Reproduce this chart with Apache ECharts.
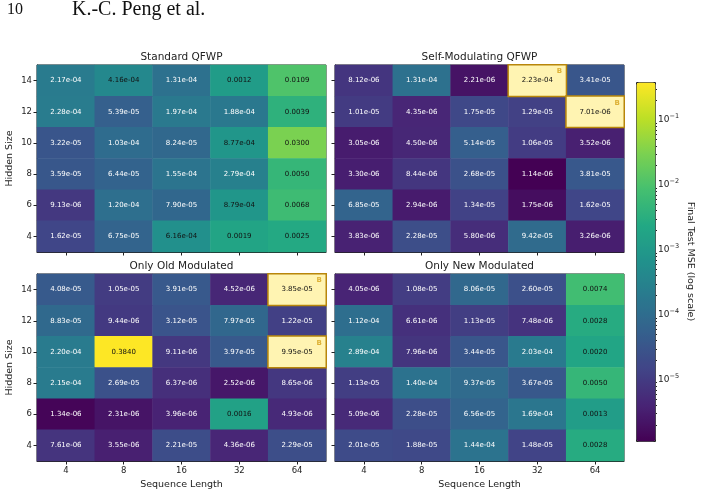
<!DOCTYPE html>
<html>
<head>
<meta charset="utf-8">
<style>
  html, body { margin: 0; padding: 0; background: #fff; }
  #chart { width: 702px; height: 495px; }
</style>
<script src="https://cdn.jsdelivr.net/npm/echarts@6.0.0/dist/echarts.min.js"></script>
</head>
<body>
<div id="chart"></div>
<script>
// categories
const seqLengths = ['4', '8', '16', '32', '64'];
const hiddenSizes = ['4', '6', '8', '10', '12', '14'];
const panelTitles = ['Standard QFWP', 'Self-Modulating QFWP', 'Only Old Modulated', 'Only New Modulated'];

// final test MSE, rows from hidden size 14 (top) down to 4, columns seq 4..64
const standardQFWP = [
  [2.17e-4, 4.16e-4, 1.31e-4, 0.0012, 0.0109],
  [2.28e-4, 5.39e-5, 1.97e-4, 1.88e-4, 0.0039],
  [3.22e-5, 1.03e-4, 8.24e-5, 8.77e-4, 0.0300],
  [3.59e-5, 6.44e-5, 1.55e-4, 2.79e-4, 0.0050],
  [9.13e-6, 1.20e-4, 7.90e-5, 8.79e-4, 0.0068],
  [1.62e-5, 6.75e-5, 6.16e-4, 0.0019, 0.0025]
];
const selfModQFWP = [
  [8.12e-6, 1.31e-4, 2.21e-6, 2.23e-4, 3.41e-5],
  [1.01e-5, 4.35e-6, 1.75e-5, 1.29e-5, 7.01e-6],
  [3.05e-6, 4.50e-6, 5.14e-5, 1.06e-5, 3.52e-6],
  [3.30e-6, 8.44e-6, 2.68e-5, 1.14e-6, 3.81e-5],
  [6.85e-5, 2.94e-6, 1.34e-5, 1.75e-6, 1.62e-5],
  [3.83e-6, 2.28e-5, 5.80e-6, 9.42e-5, 3.26e-6]
];
const oldModulated = [
  [4.08e-5, 1.05e-5, 3.91e-5, 4.52e-6, 3.85e-5],
  [8.83e-5, 9.44e-6, 3.12e-5, 7.97e-5, 1.22e-5],
  [2.20e-4, 0.3840, 9.11e-6, 3.97e-5, 9.95e-5],
  [2.15e-4, 2.69e-5, 6.37e-6, 2.52e-6, 8.65e-6],
  [1.34e-6, 2.31e-6, 3.96e-6, 0.0016, 4.93e-6],
  [7.61e-6, 3.55e-6, 2.21e-5, 4.36e-6, 2.29e-5]
];
const newModulated = [
  [4.05e-6, 1.08e-5, 8.06e-5, 2.60e-5, 0.0074],
  [1.12e-4, 6.61e-6, 1.13e-5, 7.48e-6, 0.0028],
  [2.89e-4, 7.96e-6, 3.44e-5, 2.03e-4, 0.0020],
  [1.13e-5, 1.40e-4, 9.37e-5, 3.67e-5, 0.0050],
  [5.09e-6, 2.28e-5, 6.56e-5, 1.69e-4, 0.0013],
  [2.01e-5, 1.88e-5, 1.44e-4, 1.48e-5, 0.0028]
];
// highlighted "B" cells: [seq length, hidden size]
const bestCells = [
  [],
  [['32', '14'], ['64', '12']],
  [['64', '14'], ['64', '10']],
  []
];
const cbTicks = [-5, -4, -3, -2, -1];

const panels = [standardQFWP, selfModQFWP, oldModulated, newModulated];
const allVals = panels.flat(2);
const LOG_MIN = Math.log10(Math.min(...allVals));
const LOG_MAX = Math.log10(Math.max(...allVals));

const viridis = ['#440154', '#482475', '#414487', '#355f8d', '#2a788e', '#21918c',
  '#22a884', '#44bf70', '#7ad151', '#bddf26', '#fde725'];

const fmt = v => {
  if (v >= 1e-3) return v.toFixed(4);
  const [m, e] = v.toExponential(2).split('e');
  const n = Math.abs(+e);
  return m + 'e' + (+e < 0 ? '-' : '+') + (n < 10 ? '0' + n : n);
};

const FONT = 'DejaVu Sans';
const gridPos = [
  { left: 37, top: 65 }, { left: 335, top: 65 },
  { left: 37, top: 274 }, { left: 335, top: 274 }
];
const W = 289, H = 187;

const grids = [], xAxes = [], yAxes = [], series = [], graphics = [];
const mainIdx = [];

panels.forEach((mat, p) => {
  const isBottom = p >= 2, isLeft = p % 2 === 0;
  grids.push({ left: gridPos[p].left, top: gridPos[p].top, width: W, height: H,
    show: true, borderColor: '#222', borderWidth: 1, backgroundColor: 'transparent' });
  xAxes.push({
    type: 'category', data: seqLengths, gridIndex: p,
    axisLine: { show: true, lineStyle: { color: '#222' } },
    axisTick: { show: true, alignWithLabel: true, length: 3.5, lineStyle: { color: '#222' } },
    axisLabel: { show: isBottom, fontSize: 8.5, color: '#222', fontFamily: FONT, margin: 5 },
    splitLine: { show: false },
    name: isBottom ? 'Sequence Length' : '', nameLocation: 'middle', nameGap: 19,
    nameTextStyle: { fontSize: 9.5, color: '#222', fontFamily: FONT }
  });
  yAxes.push({
    type: 'category', data: hiddenSizes, gridIndex: p,
    axisLine: { show: true, lineStyle: { color: '#222' } },
    axisTick: { show: true, alignWithLabel: true, length: 3.5, lineStyle: { color: '#222' } },
    axisLabel: { show: isLeft, fontSize: 8.5, color: '#222', fontFamily: FONT, margin: 5 },
    splitLine: { show: false },
    name: isLeft ? 'Hidden Size' : '', nameLocation: 'middle', nameGap: 22,
    nameTextStyle: { fontSize: 9.5, color: '#222', fontFamily: FONT }
  });

  const best = bestCells[p];
  const isBest = (c, r) => best.some(b => b[0] === seqLengths[c] && b[1] === hiddenSizes[r]);
  const mainData = [], bestData = [];
  mat.forEach((row, i) => {
    const r = hiddenSizes.length - 1 - i;
    row.forEach((v, c) => {
      const item = { value: [c, r, Math.log10(v), v] };
      if (isBest(c, r)) {
        bestData.push(item);
      } else {
        item.label = { color: v > 3.5e-4 ? '#111' : '#fff' };
        mainData.push(item);
      }
    });
  });
  const cellLabel = {
    show: true, fontSize: 7, fontFamily: FONT,
    formatter: prm => fmt(prm.value[3])
  };
  mainIdx.push(series.length);
  series.push({
    type: 'heatmap', xAxisIndex: p, yAxisIndex: p, data: mainData,
    label: cellLabel, emphasis: { disabled: true }
  });
  if (bestData.length) {
    series.push({
      type: 'heatmap', xAxisIndex: p, yAxisIndex: p, data: bestData,
      itemStyle: { color: '#fff4b2', borderColor: '#b8860b', borderWidth: 1.5 },
      label: Object.assign({}, cellLabel, { color: '#111' }),
      emphasis: { disabled: true }
    });
    // the small "B" tag in the corner of each highlighted cell
    series.push({
      type: 'scatter', xAxisIndex: p, yAxisIndex: p, symbol: 'circle', symbolSize: 1,
      itemStyle: { color: 'rgba(0,0,0,0)' },
      data: bestData.map(d => [d.value[0], d.value[1]]),
      label: { show: true, formatter: 'B', position: 'inside', offset: [22, -9],
        fontSize: 7, fontWeight: 'bold', color: '#d4a017', fontFamily: FONT },
      silent: true, z: 5
    });
  }
  graphics.push({
    type: 'text', x: gridPos[p].left + W / 2, y: gridPos[p].top - 8,
    style: { text: panelTitles[p], font: '10.5px "DejaVu Sans"', fill: '#222',
      textAlign: 'center', textVerticalAlign: 'middle' }
  });
});

// colorbar axes
const cbTop = 82, cbH = 359;
grids.push({ left: 636, top: cbTop, width: 19, height: cbH, show: false });
xAxes.push({ type: 'value', gridIndex: 4, show: false, min: 0, max: 1 });
const minorTicks = [];
for (let e = -7; e <= 0; e++) {
  for (let k = 2; k <= 9; k++) {
    const lv = e + Math.log10(k);
    if (lv > LOG_MIN && lv < LOG_MAX) minorTicks.push(lv);
  }
}
yAxes.push({
  type: 'value', gridIndex: 4, min: LOG_MIN, max: LOG_MAX, position: 'right',
  axisLine: { show: false }, splitLine: { show: false },
  axisTick: { show: true, length: 3.5, customValues: cbTicks, lineStyle: { color: '#222' } },
  axisLabel: {
    show: true, customValues: cbTicks, margin: 3, color: '#222', fontFamily: FONT, fontSize: 9,
    formatter: v => '10{s|\u2212' + Math.round(-v) + '}',
    rich: { s: { fontSize: 6.5, fontFamily: FONT, color: '#222', padding: [0, 0, 7, 0] } }
  }
});
yAxes.push({
  type: 'value', gridIndex: 4, min: LOG_MIN, max: LOG_MAX, position: 'right',
  axisLine: { show: false }, splitLine: { show: false }, axisLabel: { show: false },
  axisTick: { show: true, length: 2, customValues: minorTicks, lineStyle: { color: '#222' } }
});

graphics.push(
  { type: 'text', x: 7, y: 10,
    style: { text: '10', font: '16px "Liberation Serif"', fill: '#111', textVerticalAlign: 'middle' } },
  { type: 'text', x: 72, y: 10,
    style: { text: 'K.-C. Peng et al.', font: '20px "Liberation Serif"', fill: '#111', textVerticalAlign: 'middle' } },
  { type: 'text', x: 690, y: cbTop + cbH / 2, rotation: -Math.PI / 2,
    style: { text: 'Final Test MSE (log scale)', font: '9.5px "DejaVu Sans"', fill: '#222',
      textAlign: 'center', textVerticalAlign: 'middle' } }
);

const chart = echarts.init(document.getElementById('chart'));
chart.setOption({
  animation: false,
  backgroundColor: '#fff',
  textStyle: { fontFamily: FONT },
  grid: grids,
  xAxis: xAxes,
  yAxis: yAxes,
  visualMap: {
    type: 'continuous', min: LOG_MIN, max: LOG_MAX, dimension: 2,
    seriesIndex: mainIdx, calculable: false, hoverLink: false,
    orient: 'vertical', left: 636, top: cbTop, itemWidth: 19, itemHeight: cbH,
    padding: 0, borderColor: '#222', borderWidth: 1,
    inRange: { color: viridis }
  },
  graphic: graphics,
  series: series
});
</script>
</body>
</html>
